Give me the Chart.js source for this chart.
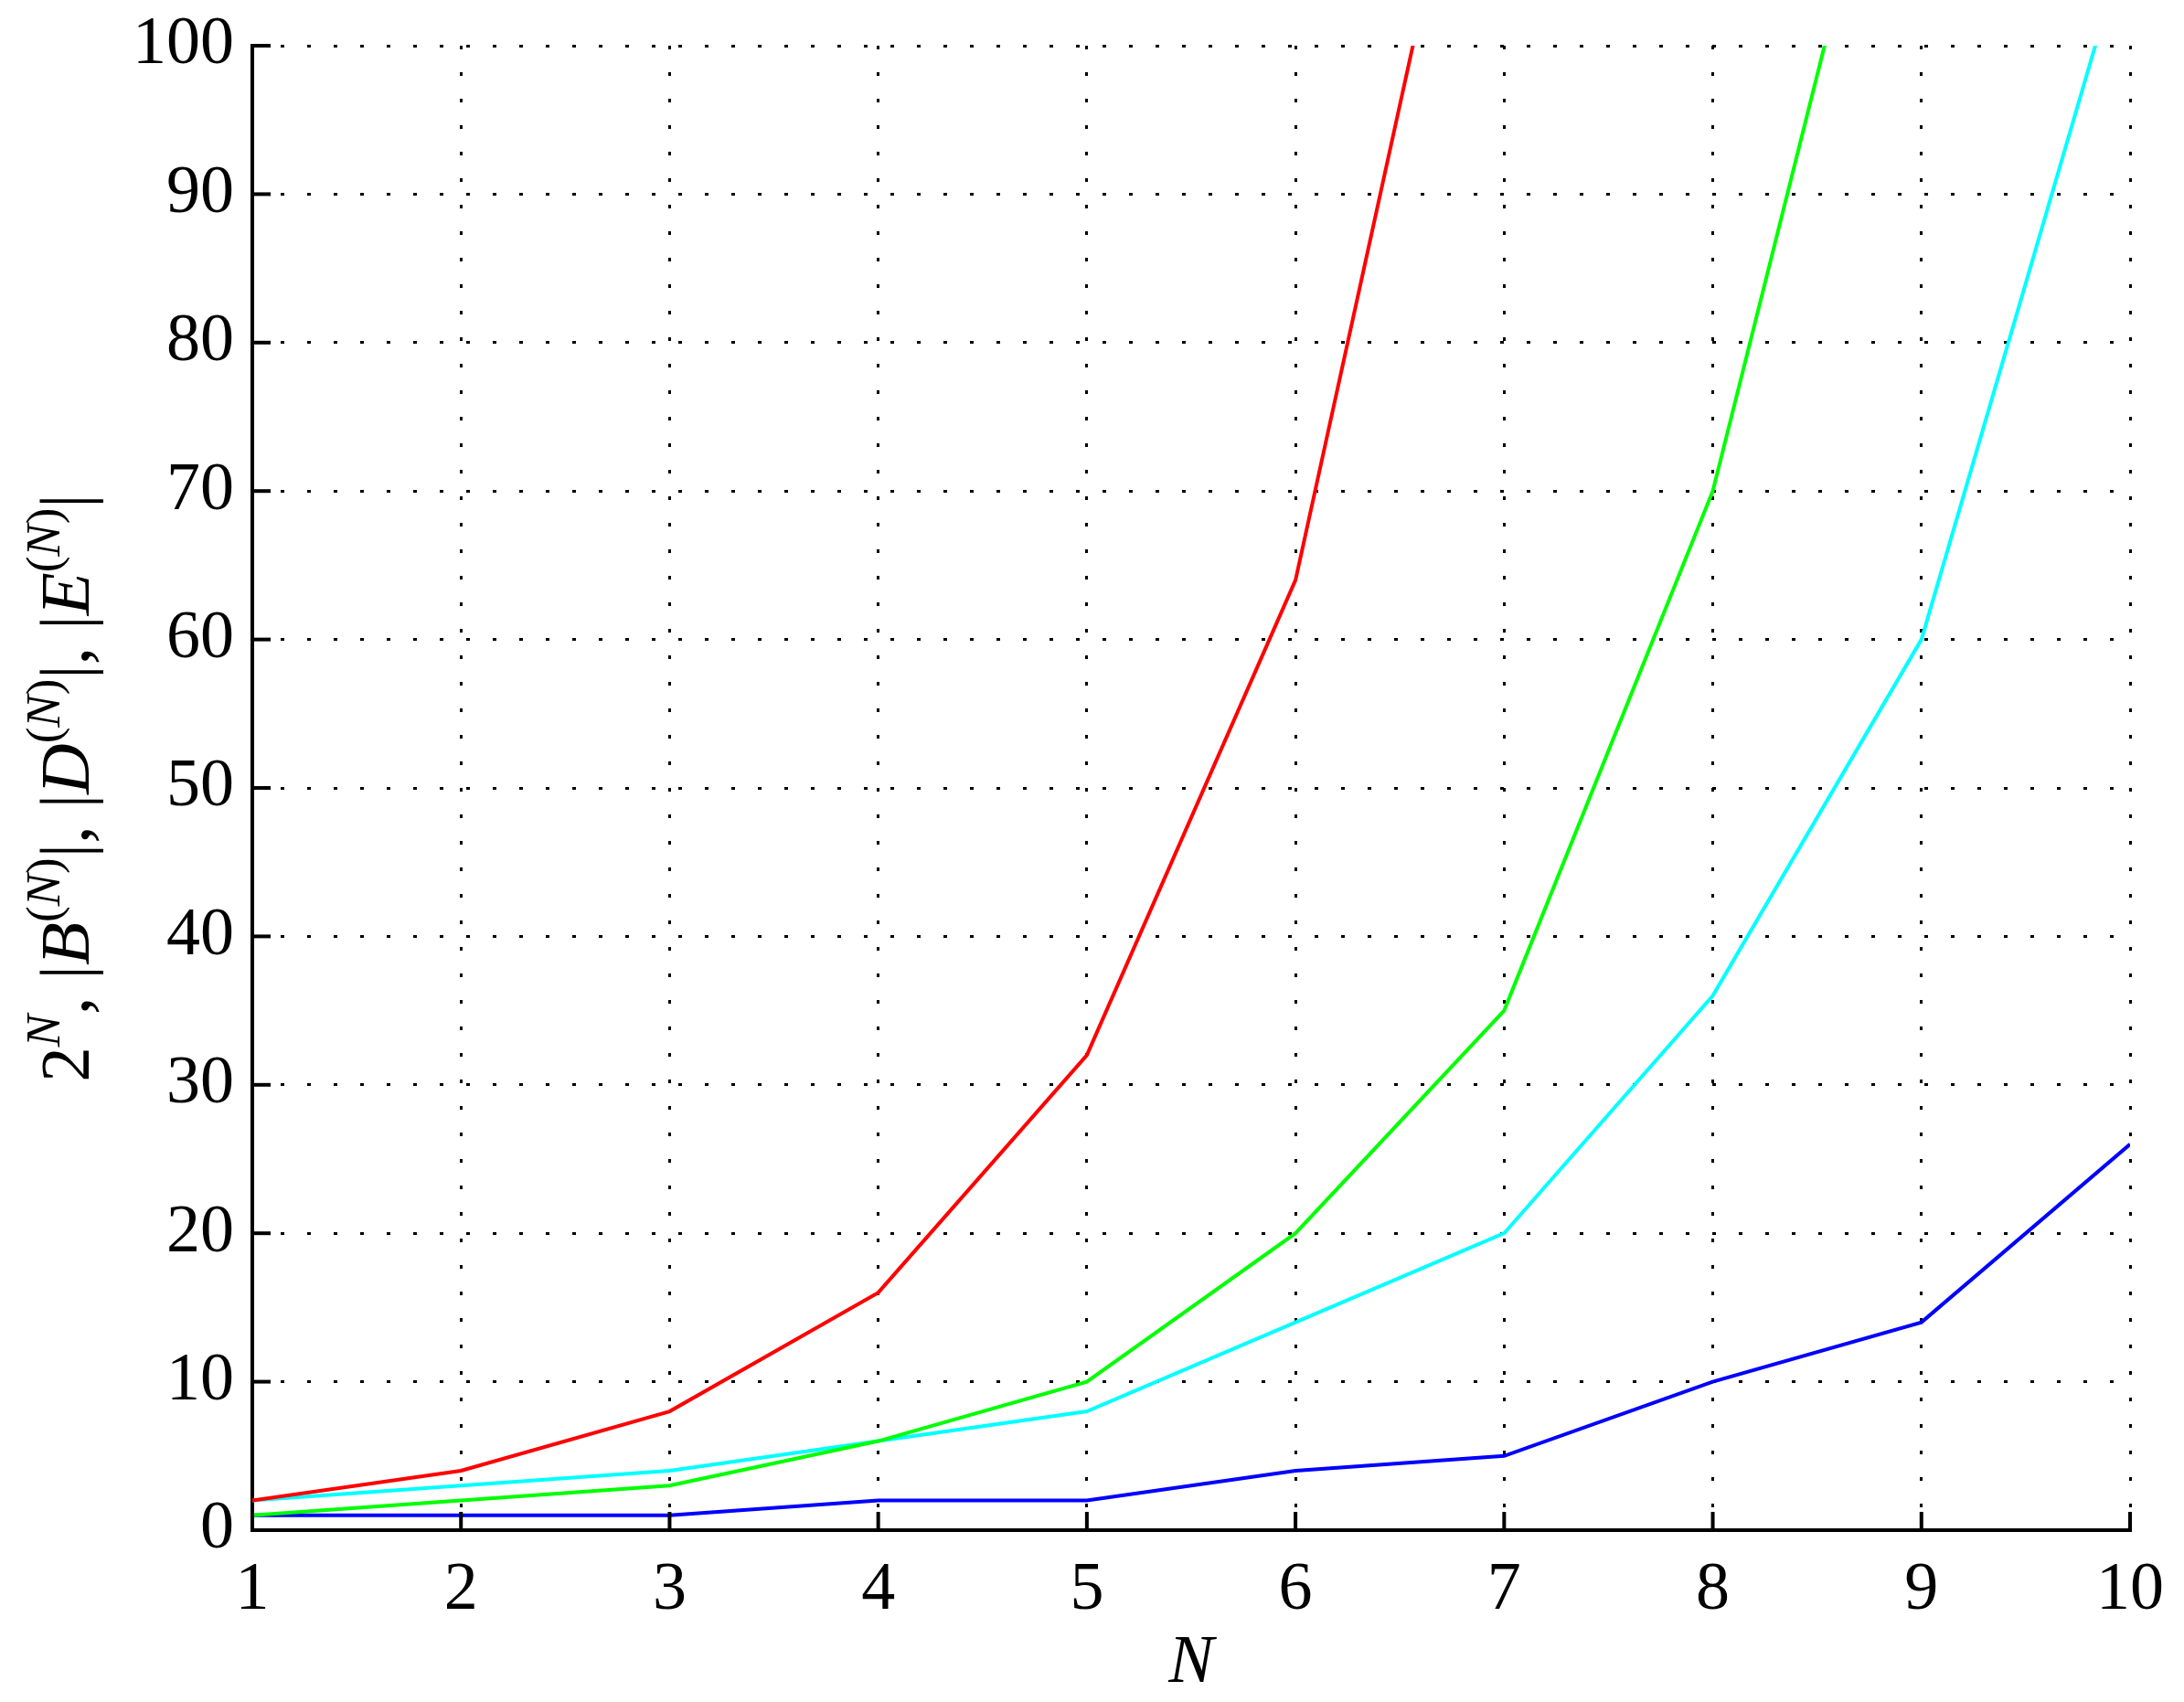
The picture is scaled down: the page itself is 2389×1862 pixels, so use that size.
<!DOCTYPE html>
<html>
<head>
<meta charset="utf-8">
<script src="https://cdn.jsdelivr.net/npm/chart.js@4.4.1/dist/chart.umd.min.js"></script>
<style>
    html, body { margin: 0; padding: 0; background: #ffffff; }
    #wrap { width: 2389px; height: 1862px; }
</style>
</head>
<body>
<div id="wrap"><canvas id="growth"></canvas></div>
<script>
    var nValues = [1, 2, 3, 4, 5, 6, 7, 8, 9, 10];
    var powerOfTwo = [2, 4, 8, 16, 32, 64, 128, 256, 512, 1024];
    var bSizes = [1, 2, 3, 6, 10, 20, 35, 70, 126, 252];
    var dSizes = [2, 3, 4, 6, 8, 14, 20, 36, 60, 108];
    var eSizes = [1, 1, 1, 2, 2, 4, 5, 10, 14, 26];
    var yTicks = [0, 10, 20, 30, 40, 50, 60, 70, 80, 90, 100];

    var serif = '"Liberation Serif", "DejaVu Serif", serif';

    function toPoints(values) {
        return values.map(function (v, i) {
            return { x: nValues[i], y: v };
        });
    }

    function series(values, color) {
        return {
            data: toPoints(values),
            borderColor: color,
            borderWidth: 4,
            pointRadius: 0,
            tension: 0,
            fill: false,
            clip: 0
        };
    }

    // inward tick marks, MATLAB style
    var innerTicks = {
        id: 'innerTicks',
        afterDraw: function (chart) {
            var ctx = chart.ctx;
            var area = chart.chartArea;
            var xs = chart.scales.x;
            var ys = chart.scales.y;
            ctx.save();
            ctx.strokeStyle = '#000';
            ctx.lineWidth = 4;
            yTicks.forEach(function (t) {
                var py = ys.getPixelForValue(t);
                ctx.beginPath();
                ctx.moveTo(area.left, py);
                ctx.lineTo(area.left + 20, py);
                ctx.stroke();
            });
            nValues.forEach(function (n) {
                var px = xs.getPixelForValue(n);
                ctx.beginPath();
                ctx.moveTo(px, area.bottom);
                ctx.lineTo(px, area.bottom - 20);
                ctx.stroke();
            });
            ctx.restore();
        }
    };

    // axis titles with super scripts
    var axisTitles = {
        id: 'axisTitles',
        afterDraw: function (chart) {
            var ctx = chart.ctx;
            var area = chart.chartArea;
            ctx.save();
            ctx.fillStyle = '#000';
            ctx.textBaseline = 'alphabetic';

            ctx.font = 'italic 74px ' + serif;
            ctx.textAlign = 'center';
            ctx.fillText('N', (area.left + area.right) / 2, 1840);

            var big = 77, small = 53, rise = -32;
            var parts = [
                { t: '2', f: 'normal', s: big, dy: 0 },
                { t: 'N', f: 'italic', s: small, dy: rise },
                { t: ', |', f: 'normal', s: big, dy: 0 },
                { t: 'B', f: 'italic', s: big, dy: 0 },
                { t: '(', f: 'normal', s: small, dy: rise },
                { t: 'N', f: 'italic', s: small, dy: rise },
                { t: ')', f: 'normal', s: small, dy: rise },
                { t: '|, |', f: 'normal', s: big, dy: 0 },
                { t: 'D', f: 'italic', s: big, dy: 0 },
                { t: '(', f: 'normal', s: small, dy: rise },
                { t: 'N', f: 'italic', s: small, dy: rise },
                { t: ')', f: 'normal', s: small, dy: rise },
                { t: '|, |', f: 'normal', s: big, dy: 0 },
                { t: 'E', f: 'italic', s: big, dy: 0 },
                { t: '(', f: 'normal', s: small, dy: rise },
                { t: 'N', f: 'italic', s: small, dy: rise },
                { t: ')', f: 'normal', s: small, dy: rise },
                { t: '|', f: 'normal', s: big, dy: 0 }
            ];
            var total = 0;
            parts.forEach(function (p) {
                ctx.font = p.f + ' ' + p.s + 'px ' + serif;
                p.w = ctx.measureText(p.t).width;
                total += p.w;
            });
            ctx.translate(97, (area.top + area.bottom) / 2);
            ctx.rotate(-Math.PI / 2);
            ctx.textAlign = 'left';
            var x = -total / 2;
            parts.forEach(function (p) {
                ctx.font = p.f + ' ' + p.s + 'px ' + serif;
                ctx.fillText(p.t, x, p.dy);
                x += p.w;
            });
            ctx.restore();
        }
    };

    new Chart(document.getElementById('growth'), {
        type: 'line',
        data: {
            datasets: [
                series(powerOfTwo, '#ff0000'),
                series(bSizes, '#00ff00'),
                series(dSizes, '#00ffff'),
                series(eSizes, '#0000ff')
            ]
        },
        options: {
            responsive: true,
            maintainAspectRatio: false,
            animation: false,
            devicePixelRatio: 1,
            layout: {
                padding: { top: 50, right: 49, left: 0, bottom: 0 }
            },
            plugins: {
                legend: { display: false },
                tooltip: { enabled: false }
            },
            scales: {
                x: {
                    type: 'linear',
                    min: 1,
                    max: 10,
                    afterFit: function (scale) { scale.height = 188; },
                    afterBuildTicks: function (scale) {
                        scale.ticks = nValues.map(function (v) { return { value: v }; });
                    },
                    ticks: {
                        color: '#000',
                        padding: 22,
                        maxRotation: 0,
                        font: { family: serif, size: 74 }
                    },
                    grid: {
                        color: '#000',
                        lineWidth: 3,
                        drawTicks: false
                    },
                    border: { display: true, color: '#000', width: 4, dash: [4, 25] }
                },
                y: {
                    min: 0,
                    max: 100,
                    afterFit: function (scale) {
                        scale.width = 276;
                        scale.paddingTop = 0;
                        scale.paddingBottom = 0;
                    },
                    afterBuildTicks: function (scale) {
                        scale.ticks = yTicks.map(function (v) { return { value: v }; });
                    },
                    ticks: {
                        color: '#000',
                        padding: 20,
                        font: { family: serif, size: 74 }
                    },
                    grid: {
                        color: '#000',
                        lineWidth: 3,
                        drawTicks: false
                    },
                    border: { display: true, color: '#000', width: 4, dash: [4, 25] }
                }
            }
        },
        plugins: [innerTicks, axisTitles]
    });
</script>
</body>
</html>
